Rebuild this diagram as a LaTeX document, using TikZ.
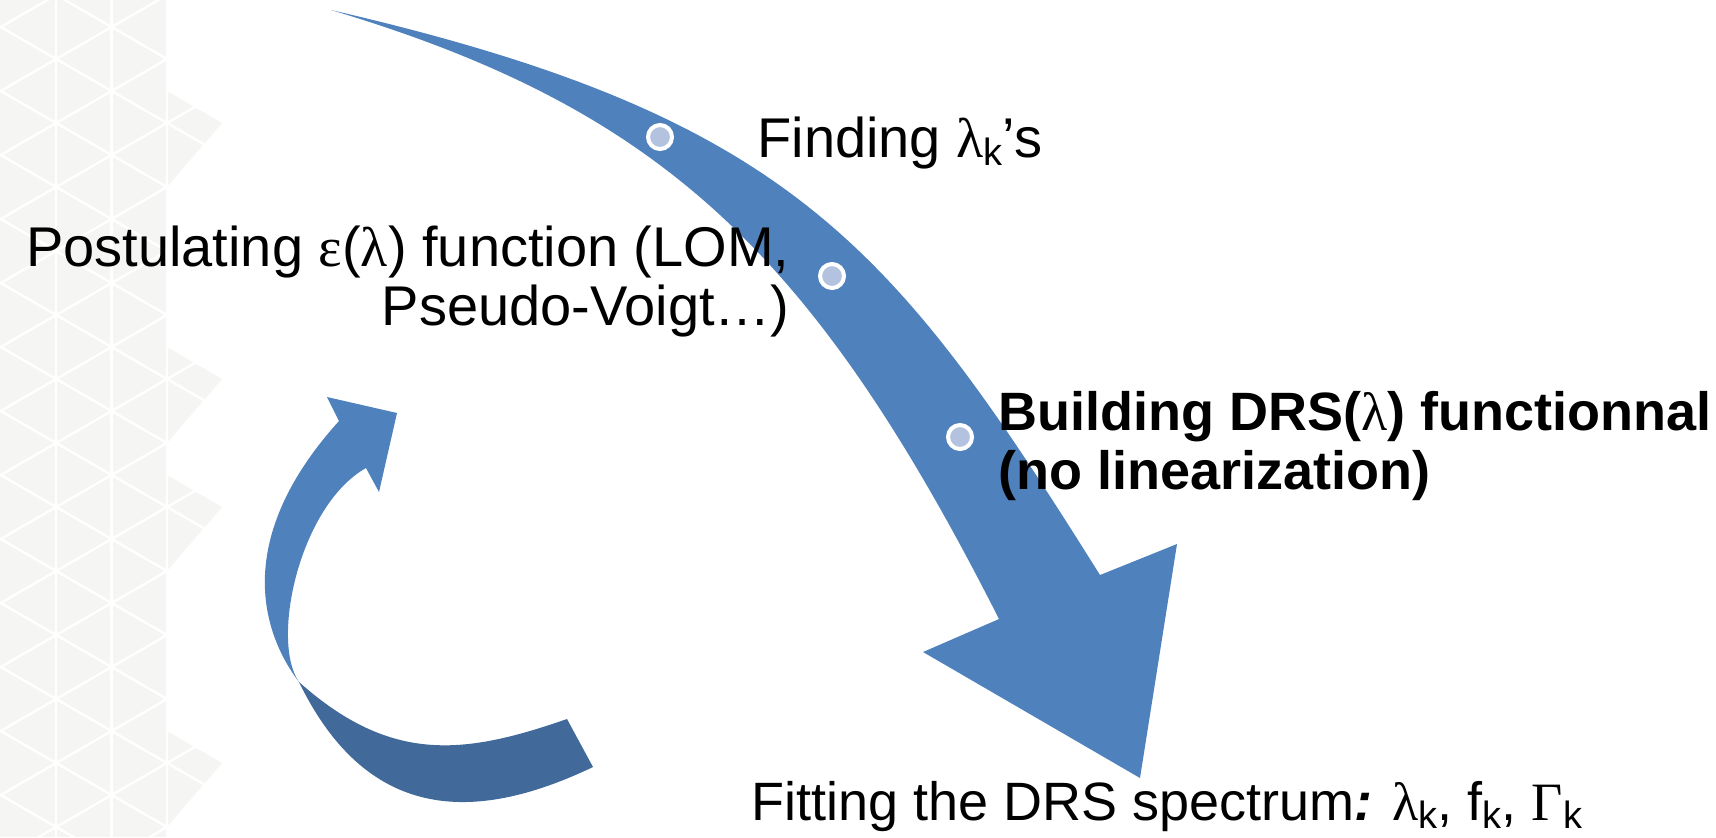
\documentclass[tikz,border=0pt]{standalone}
\usepackage{fontspec}
\setmainfont{Liberation Sans}
\newfontfamily\greekfont{Liberation Serif}
\newcommand{\lam}{{\greekfont\mdseries λ}}
\newcommand{\subk}{\raisebox{-0.3ex}{\fontsize{19pt}{19pt}\selectfont k}}
\definecolor{arrowblue}{HTML}{4F81BD}
\definecolor{arrowdark}{HTML}{41699A}
\definecolor{dotfill}{HTML}{B2C2DF}
\definecolor{bggray}{HTML}{F5F5F3}
\tikzset{
  stagetext/.style={inner sep=0pt, font=\fontsize{28pt}{29.5pt}\selectfont},
  stagedot/.style={circle, draw=white, line width=2pt, fill=dotfill, minimum size=12pt, inner sep=0pt},
  bgline/.style={white, line width=1.2pt}
}
\begin{document}
\begin{tikzpicture}[x=0.5pt,y=-0.5pt]
\useasboundingbox (0,0) rectangle (1716,837);

% faint triangle band on the left
\begin{scope}
\path[clip] (0,0) rectangle (167,837)
  (167,91) -- (222,123) -- (167,187) -- cycle
  (167,347) -- (222,379) -- (167,443) -- cycle
  (167,475) -- (222,507) -- (167,571) -- cycle
  (167,731) -- (222,763) -- (167,827) -- cycle;
\fill[bggray] (0,0) rectangle (222,837);
\foreach \k in {-4,...,14} {
  \draw[bgline] (0,{26.6+64*\k}) -- (222,{154.7+64*\k});
  \draw[bgline] (0,{219.4+64*\k}) -- (222,{91.3+64*\k});
}
\foreach \x in {56,111.5,167}
  \draw[bgline] (\x,0) -- (\x,837);
\end{scope}

% big arrow
\fill[arrowblue] (331,10) .. controls (791,116) and (893,245) .. (1100,575)
  -- (1177,544) -- (1140,778) -- (923,652) -- (999,619)
  .. controls (814,254) and (662,109) .. cycle;

% loop arrow, light part
\fill[arrowblue] (299,682) .. controls (259,629) and (235,536) .. (339,421)
  -- (327,397) -- (397,413) -- (379,492) -- (366,468)
  .. controls (300,505) and (270,640) .. cycle;
% loop arrow, dark part
\fill[arrowdark] (299,682) .. controls (370,828) and (482,820) .. (593,767)
  -- (567,719) .. controls (466,754) and (392,765) .. cycle;

% dots on the big arrow
\node[stagedot] (dot1) at (660,137) {};
\node[stagedot] (dot2) at (832,276) {};
\node[stagedot] (dot3) at (960,437) {};

% texts
\node[stagetext, anchor=base west] (finding) at (757,157) {Finding \lam\subk’s};
\node[stagetext, anchor=base east] (postulating) at (790,266)
  {\begin{tabular}[t]{@{}r@{}}Postulating {\greekfont ε}(\lam) function (LOM,\\Pseudo-Voigt…)\end{tabular}};
\node[stagetext, anchor=base west, font=\fontsize{27pt}{29.5pt}\selectfont\bfseries] (building) at (998,430)
  {\begin{tabular}[t]{@{}l@{}}Building DRS(\lam) functionnal\\(no linearization)\end{tabular}};
\node[stagetext, anchor=base west, font=\fontsize{27pt}{29.5pt}\selectfont] (fitting) at (751,820)
  {Fitting the DRS spectrum\textbf{\textit{:}} \lam\subk, f\subk, {\greekfont Γ}\subk};
\end{tikzpicture}
\end{document}
